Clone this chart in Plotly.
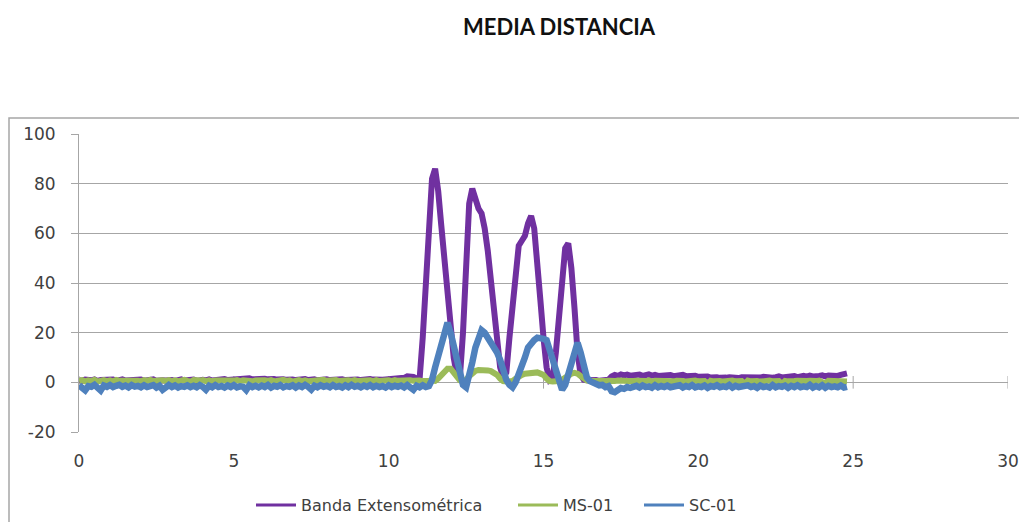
import plotly.graph_objects as go

# Sampling interval of the recorded signals (seconds)
STEP = 0.1

# Banda Extensométrica (strain gauge), one value per 0.1 s starting at t = 0
banda = [
    0.9, 0.6, 1.1, 0.7, 0.8, 1.2, 0.6, 0.9, 1.0, 0.7,
    0.8, 1.1, 0.6, 0.9, 1.2, 0.7, 0.8, 1.0, 0.6, 0.9,
    1.1, 0.7, 0.9, 0.8, 1.2, 0.6, 1.0, 0.8, 0.7, 1.1,
    0.9, 0.6, 1.0, 1.2, 0.7, 0.9, 0.8, 1.1, 0.6, 0.9,
    1.0, 0.8, 1.2, 0.7, 0.9, 1.1, 0.8, 1.3, 0.9, 1.0,
    1.2, 1.4, 1.1, 1.5, 1.3, 1.6, 1.2, 1.4, 1.5, 1.3,
    1.4, 1.2, 1.5, 1.3, 1.1, 1.4, 1.2, 1.0, 1.3, 1.1,
    0.9, 1.2, 1.0, 1.3, 0.9, 1.1, 1.2, 0.8, 1.1, 1.0,
    1.2, 0.9, 1.1, 1.3, 1.0, 1.2, 0.9, 1.1, 1.0, 1.3,
    1.1, 0.9, 1.2, 1.0, 1.3, 1.1, 0.9, 1.2, 1.0, 1.1,
    1.2, 1.0, 1.3, 1.1, 1.4, 1.8, 2.4, 2.6, 2.2, 1.6,
    1.5, 18, 42, 65, 82, 86, 77, 63, 49, 35,
    22, 10, 3, 2, 20, 50, 72, 78, 73, 70,
    68, 62, 53, 40, 27, 15, 6, 2, 4, 18,
    32, 46, 55, 57, 59, 64, 67, 62, 50, 33,
    18, 6, 1, 2, 12, 28, 45, 54, 56, 46,
    30, 12, 3, 1.0, 0.8, 1.0, 0.7, 0.9, 0.6, 0.8,
    0.8, 1.0, 2.4, 3.0, 2.6, 3.2, 2.8, 3.1, 2.7, 3.0,
    2.8, 3.1, 2.6, 2.9, 3.2, 2.7, 3.0, 2.6, 2.8, 3.1,
    2.7, 2.9, 2.5, 2.8, 2.6, 3.0, 2.5, 2.7, 2.4, 2.6,
    2.2, 2.4, 2.0, 2.3, 1.9, 2.2, 2.0, 1.8, 2.1, 1.9,
    2.0, 1.8, 2.1, 1.7, 2.0, 1.9, 2.2, 1.8, 2.0, 2.1,
    1.9, 2.2, 2.0, 2.3, 1.9, 2.1, 2.4, 2.0, 2.2, 2.5,
    2.2, 2.5, 2.1, 2.4, 2.6, 2.3, 2.7, 2.4, 2.2, 2.6,
    2.8, 2.4, 2.7, 2.5, 2.9, 2.6, 3.0, 3.3, 3.6,
]

# MS-01 sensor
ms01 = [
    0.6, 0.9, 0.4, 0.8, 0.5, 1.0, 0.3, 0.7, 0.9, 0.5,
    0.8, 0.4, 1.0, 0.6, 0.7, 0.3, 0.9, 0.5, 0.8, 0.6,
    0.4, 0.9, 0.6, 1.0, 0.5, 0.7, 0.3, 0.8, 0.6, 0.9,
    0.5, 0.8, 0.4, 0.7, 1.0, 0.6, 0.3, 0.9, 0.5, 0.7,
    0.9, 0.5, 0.8, 0.4, 0.7, 0.6, 1.0, 0.5, 0.8, 0.4,
    0.7, 0.9, 0.5, 0.8, 0.6, 1.0, 0.4, 0.7, 0.9, 0.5,
    0.8, 0.6, 0.9, 0.4, 0.7, 0.5, 1.0, 0.6, 0.8, 0.3,
    0.7, 0.9, 0.5, 0.8, 0.4, 0.6, 0.9, 0.5, 0.7, 1.0,
    0.6, 0.8, 0.4, 0.9, 0.5, 0.7, 0.3, 0.8, 0.6, 0.9,
    0.5, 0.7, 1.0, 0.6, 0.8, 0.4, 0.9, 0.5, 0.7, 0.6,
    0.8, 0.5, 0.9, 0.6, 0.7, 1.0, 0.5, 0.8, 0.6, 0.9,
    0.7, 0.5, 0.8, 0.6, 0.7, 0.6, 1.5, 3.0, 4.5, 5.5,
    5.5, 4.0, 2.0, 0.8, 0.5, 1.0, 2.5, 4.0, 4.6, 5.0,
    5.1, 5.0, 4.8, 4.5, 4.0, 3.0, 1.5, 0.5, 0.3, 0.3,
    0.5, 1.5, 2.5, 3.0, 3.5, 3.6, 4.0, 3.8, 4.0, 3.5,
    3.0, 1.5, 0.5, 0.3, 0.3, 0.5, 1.0, 2.0, 3.0, 3.5,
    3.8, 3.5, 2.5, 1.5, 0.8, 0.5, 0.4, 0.6, 0.5, 0.7,
    0.5, 0.6, 0.4, 0.5, 0.7, 0.4, 0.6, 0.5, 0.3, 0.5,
    0.6, 0.4, 0.7, 0.5, 0.8, 0.3, 0.6, 0.5, 0.7, 0.4,
    0.5, 0.7, 0.4, 0.6, 0.8, 0.5, 0.3, 0.6, 0.5, 0.7,
    0.4, 0.6, 0.5, -0.8, 0.6, 0.4, 0.7, 0.5, 0.3, 0.6,
    0.5, 0.7, 0.4, 0.6, 0.5, -0.6, 0.7, 0.4, 0.6, 0.5,
    0.3, 0.6, 0.5, 0.7, 0.4, 0.6, 0.5, -0.7, 0.6, 0.4,
    0.7, 0.5, 0.6, 0.4, 0.8, 0.5, 0.6, 0.3, 0.5, 0.7,
    0.4, -0.5, 0.6, 0.5, 0.7, 0.4, 0.6, 0.5, 0.3,
]

# SC-01 sensor
sc01 = [
    -1.2, -1.9, -3.2, -1.5, -1.8, -1.0, -2.0, -3.3, -1.3, -1.8,
    -1.1, -1.9, -1.4, -1.0, -1.8, -1.3, -2.0, -1.1, -1.7, -1.4,
    -2.0, -1.2, -1.9, -1.5, -1.1, -2.1, -1.4, -3.0, -1.8, -1.1,
    -1.9, -1.3, -2.1, -1.5, -1.8, -1.2, -1.9, -1.4, -2.0, -1.1,
    -1.8, -3.0, -1.4, -2.0, -1.1, -1.9, -1.5, -2.1, -1.3, -1.9,
    -1.1, -2.0, -1.6, -1.8, -3.1, -1.2, -1.9, -1.4, -2.0, -1.3,
    -1.9, -1.1, -2.1, -1.4, -1.8, -1.1, -2.0, -1.5, -1.8, -1.2,
    -2.1, -1.3, -1.9, -1.0, -1.8, -2.9, -1.4, -2.0, -1.2, -1.8,
    -1.4, -2.0, -1.1, -1.9, -1.5, -2.1, -1.2, -1.9, -1.0, -1.8,
    -1.4, -2.0, -1.3, -1.8, -1.1, -2.0, -1.4, -1.9, -1.5, -2.1,
    -1.2, -1.9, -1.4, -1.8, -1.3, -2.0, -1.1, -1.9, -3.0, -1.4,
    -2.0, -1.2, -1.9, -1.5, 1.0, 6, 11, 16, 20, 24,
    20, 15, 9, 4, -1, -2, 2, 8, 14, 17,
    21, 20, 18, 17, 15, 12, 9, 4, 1, -1,
    -2, 0, 3, 6, 10, 14, 16, 17, 18, 18,
    17.5, 17, 13, 8, 3, 0, -3, -1, 3, 7,
    12, 16, 12, 6, 2, 0.5, -0.3, -0.6, -1.2, -1.0,
    -1.9, -1.5, -3.6, -4.0, -3.0, -2.3, -2.6, -1.9, -2.2, -1.8,
    -1.4, -2.1, -1.3, -1.9, -1.6, -2.2, -1.2, -2.0, -1.5, -1.9,
    -1.3, -2.0, -1.6, -1.8, -1.2, -2.1, -1.5, -1.9, -1.1, -2.0,
    -1.6, -1.9, -1.3, -2.2, -1.5, -1.8, -1.2, -2.0, -1.6, -1.9,
    -1.1, -2.1, -1.4, -1.9, -1.7, -2.0, -1.2, -1.9, -1.5, -2.2,
    -1.3, -1.9, -1.6, -2.1, -1.1, -2.0, -1.5, -1.8, -1.3, -2.2,
    -1.4, -1.9, -1.2, -2.0, -1.6, -1.9, -1.0, -2.1, -1.5, -2.0,
    -1.2, -2.2, -1.4, -1.9, -1.6, -2.0, -1.3, -2.1, -1.8,
]

x_ticks = [0, 5, 10, 15, 20, 25, 30]
y_ticks = [-20, 0, 20, 40, 60, 80, 100]
y_tick_text = ["-20", "0", "20", "40", "60", "80", "100"]

# name, values, colour, line width, legend id, legend left edge (px)
series = [
    ("Banda Extensométrica", banda, "#7030A0", 6, "legend", 251),
    ("MS-01", ms01, "#9BBB59", 6, "legend2", 513),
    ("SC-01", sc01, "#4F81BD", 6.5, "legend3", 639),
]

AXIS_GREY = "#A6A6A6"
TEXT_GREY = "#404040"
FONT = "DejaVu Sans"

# plot area in pixels
L, R, T, B = 79, 1008, 134, 432
W, H = R - L, B - T


def px_x(px):
    return (px - L) / W


def px_y(py):
    return (B - py) / H


fig = go.Figure()

# small tick marks where the x axis crosses y = 0
fig.add_trace(go.Scatter(
    x=x_ticks, y=[0] * len(x_ticks), mode="markers",
    marker=dict(symbol="line-ns", size=9, line=dict(width=1, color=AXIS_GREY)),
    showlegend=False, hoverinfo="skip",
))

legends = {}
for name, values, color, width, legend_id, left in series:
    t = [round(i * STEP, 1) for i in range(len(values))]
    fig.add_trace(go.Scatter(
        x=t, y=values, mode="lines", name=name, showlegend=False,
        line=dict(color=color, width=width),
    ))
    # legend entry with a thinner key line
    fig.add_trace(go.Scatter(
        x=[None], y=[None], mode="lines", name=name, legend=legend_id,
        line=dict(color=color, width=3), hoverinfo="skip",
    ))
    legends[legend_id] = dict(
        orientation="h", x=px_x(left), xanchor="left",
        y=px_y(505), yanchor="middle",
        font=dict(family=FONT, size=16, color=TEXT_GREY),
        bgcolor="rgba(0,0,0,0)", itemwidth=40,
    )

fig.update_layout(
    width=1019, height=522,
    paper_bgcolor="white", plot_bgcolor="white",
    margin=dict(l=L, r=1019 - R, t=T, b=522 - B, autoexpand=False),
    font=dict(family=FONT, size=16, color=TEXT_GREY),
    showlegend=True,
    **legends,
    annotations=[dict(
        text="<b>MEDIA DISTANCIA</b>", xref="paper", yref="paper",
        x=px_x(559), y=px_y(27), xanchor="center", yanchor="middle",
        showarrow=False, font=dict(family="Lato", size=22, color="#111111"),
    )],
    shapes=[dict(
        type="rect", xref="paper", yref="paper",
        x0=px_x(9), x1=px_x(1040), y0=px_y(560), y1=px_y(118),
        line=dict(color=AXIS_GREY, width=1.5), fillcolor="rgba(0,0,0,0)", layer="below",
    )],
)

fig.update_xaxes(
    range=[0, 30], tickvals=x_ticks, showgrid=False, zeroline=False,
    showline=False, ticks="outside", ticklen=14, tickcolor="rgba(0,0,0,0)",
    tickfont=dict(family=FONT, size=17, color=TEXT_GREY),
)
fig.update_yaxes(
    range=[-20, 100], tickvals=y_ticks, ticktext=y_tick_text,
    showgrid=True, gridcolor=AXIS_GREY, gridwidth=1,
    zeroline=True, zerolinecolor=AXIS_GREY, zerolinewidth=1,
    showline=True, linecolor=AXIS_GREY, linewidth=1,
    ticks="outside", ticklen=7, tickcolor=AXIS_GREY, ticklabelstandoff=12,
    tickfont=dict(family=FONT, size=17, color=TEXT_GREY),
)

fig.write_html("out.html")
